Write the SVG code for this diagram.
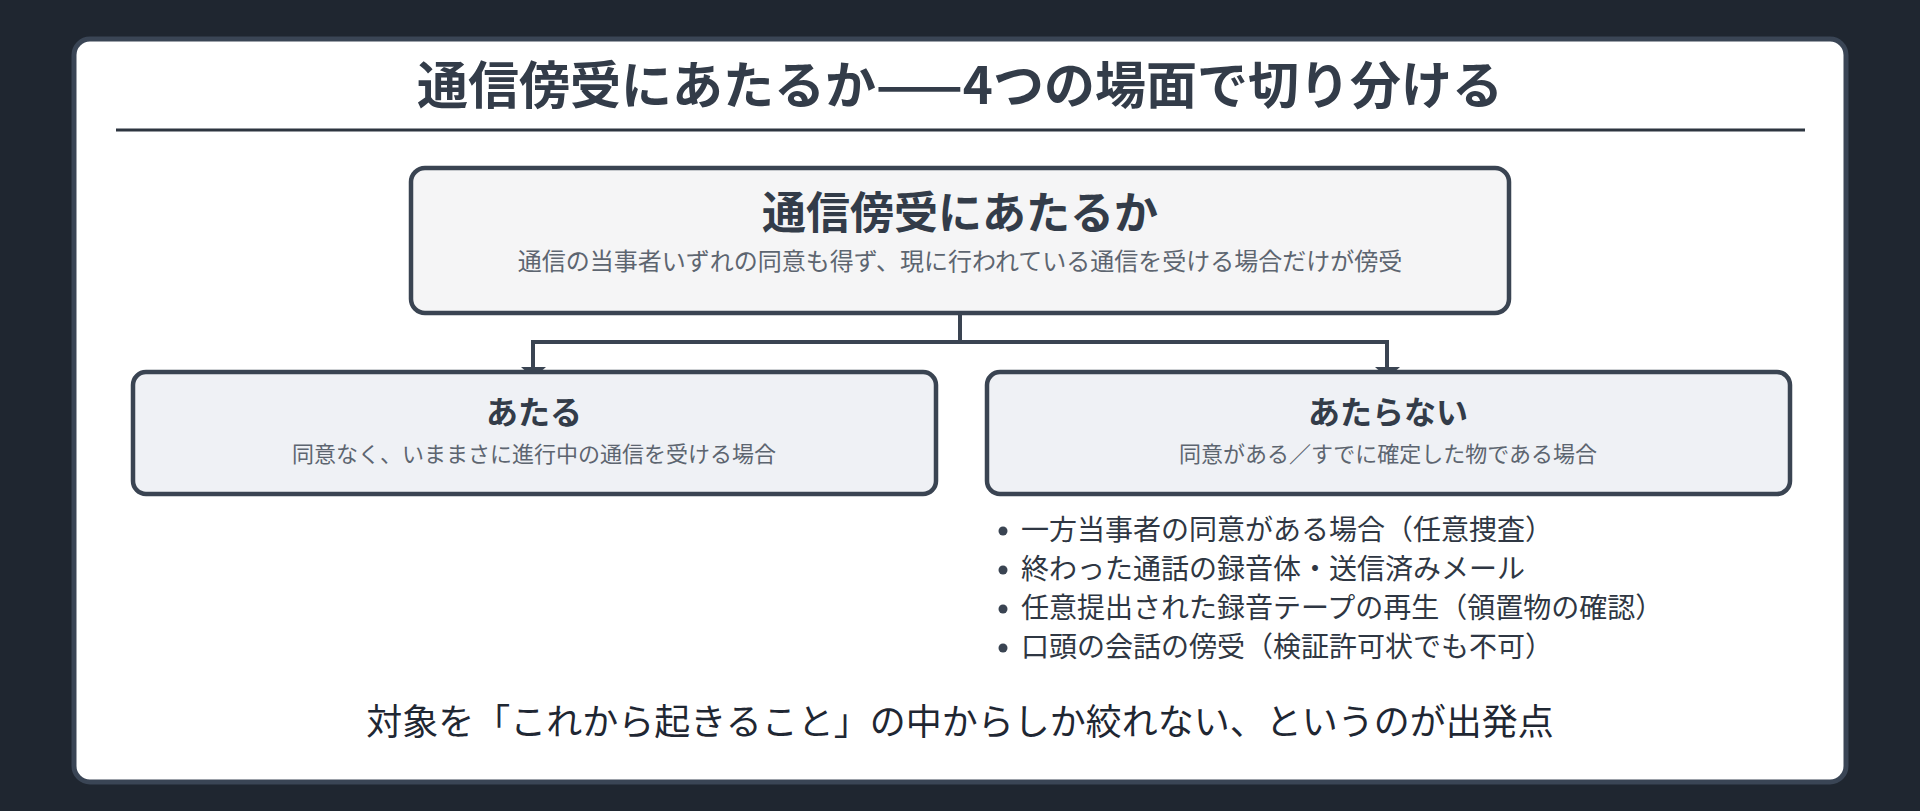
<svg xmlns="http://www.w3.org/2000/svg" width="1920" height="811" viewBox="0 0 1920 811">
<style>
text{font-family:"Noto Sans CJK JP","Noto Sans",sans-serif}
.box{stroke:#3a4452;stroke-width:4.5}
.h{font-weight:700;fill:#333c49;text-anchor:middle}
.sub{fill:#5d6570;text-anchor:middle}
.li{font-size:28px;fill:#2f3743}
.conn{fill:none;stroke:#3a4452;stroke-width:4}
</style>
<rect width="1920" height="811" fill="#1f2630"/>
<rect x="74" y="39" width="1772" height="743" rx="16" fill="#ffffff" stroke="#3a4555" stroke-width="5"/>
<g id="title">
<text x="960" y="104" font-size="51" class="h" fill="#3a4452">通信傍受にあたるか——4つの場面で切り分ける</text>
<line x1="116" y1="130" x2="1805" y2="130" stroke="#2d3540" stroke-width="3"/>
</g>
<g id="connectors">
<path class="conn" d="M960,313 V342 M533,342 H1387 M533,340 V368 M1387,340 V368"/>
<path d="M521,367 L546,367 L533.5,378 Z" fill="#3a4452"/>
<path d="M1375,367 L1400,367 L1387.5,378 Z" fill="#3a4452"/>
</g>
<g id="root">
<rect class="box" x="411" y="168" width="1098" height="145" rx="14" fill="#f5f5f6"/>
<text x="960" y="229" font-size="44" class="h">通信傍受にあたるか</text>
<text x="960" y="270" font-size="24" class="sub">通信の当事者いずれの同意も得ず、現に行われている通信を受ける場合だけが傍受</text>
</g>
<g id="ataru">
<rect class="box" x="133" y="372" width="803" height="122" rx="13" fill="#eff1f5"/>
<text x="534" y="424" font-size="32" class="h" fill="#222a35">あたる</text>
<text x="534" y="462" font-size="22" class="sub">同意なく、いままさに進行中の通信を受ける場合</text>
</g>
<g id="ataranai">
<rect class="box" x="987" y="372" width="803" height="122" rx="13" fill="#eff1f5"/>
<text x="1388" y="424" font-size="32" class="h" fill="#222a35">あたらない</text>
<text x="1388" y="462" font-size="22" class="sub">同意がある／すでに確定した物である場合</text>
</g>
<g id="list">
<circle cx="1003" cy="531" r="4.5" fill="#3a4452"/>
<circle cx="1003" cy="570" r="4.5" fill="#3a4452"/>
<circle cx="1003" cy="609" r="4.5" fill="#3a4452"/>
<circle cx="1003" cy="648" r="4.5" fill="#3a4452"/>
<text class="li" x="1021" y="540">一方当事者の同意がある場合（任意捜査）</text>
<text class="li" x="1021" y="579">終わった通話の録音体・送信済みメール</text>
<text class="li" x="1021" y="618">任意提出された録音テープの再生（領置物の確認）</text>
<text class="li" x="1021" y="657">口頭の会話の傍受（検証許可状でも不可）</text>
</g>
<g id="footer">
<text x="960" y="735" font-size="36" fill="#1f2733" text-anchor="middle">対象を「これから起きること」の中からしか絞れない、というのが出発点</text>
</g>
</svg>
